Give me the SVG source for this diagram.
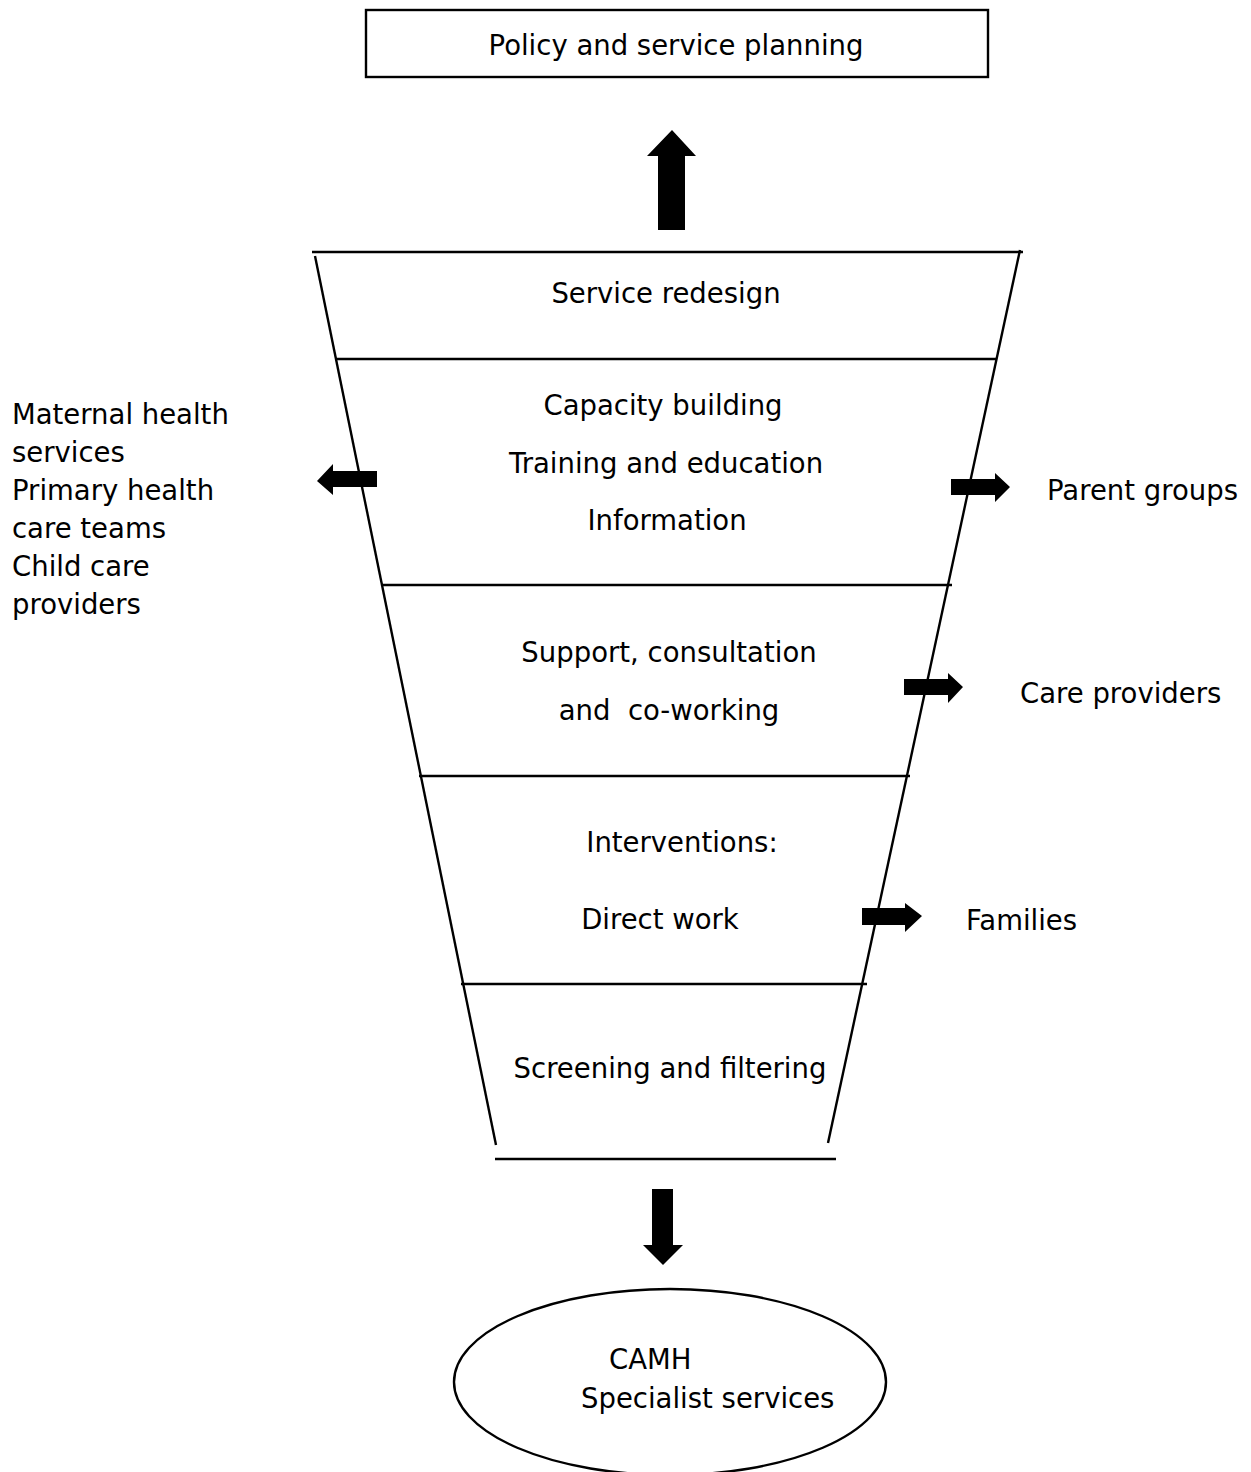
<svg xmlns="http://www.w3.org/2000/svg" width="1251" height="1472" viewBox="0 0 1251 1472">
<style>
text{font-family:"DejaVu Sans",Verdana,sans-serif;font-size:27.5px;fill:#000;white-space:pre}
.c{text-anchor:middle}
.ln{stroke:#000;stroke-width:2.4;fill:none}
.ar{fill:#000;stroke:none}
</style>
<rect width="1251" height="1472" fill="#fff"/>
<g id="policy">
<rect x="366" y="10" width="622" height="67" class="ln" stroke-width="1.8"/>
<text x="676" y="55" class="c">Policy and service planning</text>
</g>
<g id="funnel">
<line x1="312" y1="252" x2="1023" y2="252" class="ln"/>
<line x1="315" y1="256" x2="496" y2="1145" class="ln"/>
<line x1="1020" y1="250" x2="828" y2="1143" class="ln"/>
<line x1="337" y1="359" x2="996" y2="359" class="ln"/>
<line x1="382" y1="585" x2="952" y2="585" class="ln"/>
<line x1="419" y1="776" x2="910" y2="776" class="ln"/>
<line x1="461" y1="984" x2="867" y2="984" class="ln"/>
<line x1="495" y1="1159" x2="836" y2="1159" class="ln"/>
</g>
<g id="service-redesign"><text x="666" y="303" class="c">Service redesign</text></g>
<g id="capacity">
<text x="663" y="415" class="c">Capacity building</text>
<text x="666" y="473" class="c">Training and education</text>
<text x="667" y="530" class="c">Information</text>
</g>
<g id="support">
<text x="669" y="662" class="c">Support, consultation</text>
<text x="669" y="720" class="c">and  co-working</text>
</g>
<g id="interventions">
<text x="682" y="852" class="c">Interventions:</text>
<text x="660" y="929" class="c">Direct work</text>
</g>
<g id="screening"><text x="670" y="1078" class="c">Screening and filtering</text></g>
<g id="left-services">
<text x="12" y="424">Maternal health</text>
<text x="12" y="462">services</text>
<text x="12" y="500">Primary health</text>
<text x="12" y="538">care teams</text>
<text x="12" y="576">Child care</text>
<text x="12" y="614">providers</text>
</g>
<g id="parent-groups"><text x="1047" y="500">Parent groups</text></g>
<g id="care-providers"><text x="1020" y="703">Care providers</text></g>
<g id="families"><text x="966" y="930">Families</text></g>
<g id="camh">
<ellipse cx="670" cy="1382" rx="216" ry="93" class="ln" stroke-width="1.8"/>
<text x="609" y="1369">CAMH</text>
<text x="581" y="1408">Specialist services</text>
</g>
<g id="connectors">
<polygon class="ar" points="658,230 658,156 647,156 672,130 696,156 685,156 685,230"/>
<polygon class="ar" points="377,471 333,471 333,464 317,481 333,495 333,487 377,487"/>
<polygon class="ar" points="951,479 995,479 995,473 1010,487 995,502 995,495 951,495"/>
<polygon class="ar" points="904,679 948,679 948,673 963,687 948,703 948,695 904,695"/>
<polygon class="ar" points="862,908 905,908 905,903 922,916 905,932 905,925 862,925"/>
<polygon class="ar" points="652,1189 673,1189 673,1245 683,1245 663,1265 643,1245 652,1245"/>
</g>
</svg>
